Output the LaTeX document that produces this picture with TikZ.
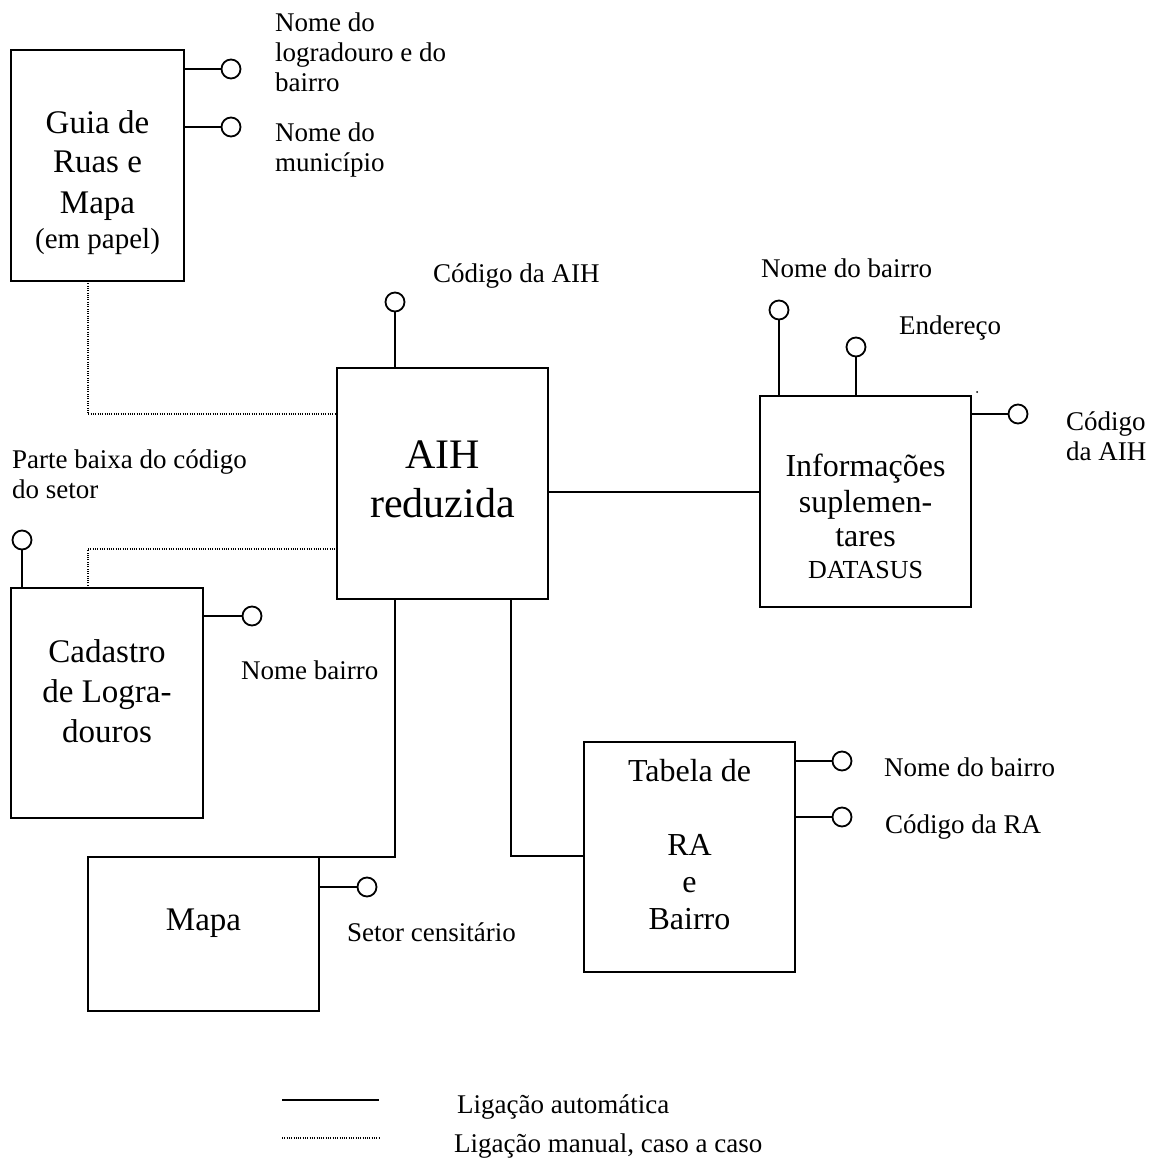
\documentclass[tikz,border=0pt]{standalone}
\usepackage{fontspec}
\setmainfont{Liberation Serif}
\begin{document}
\begin{tikzpicture}[x=1pt,y=-1pt,
  box/.style={draw, line width=2pt, rectangle, inner sep=0pt, outer sep=0pt},
  attr/.style={circle, draw, line width=1.8pt, minimum size=19pt, inner sep=0pt, outer sep=0pt},
  link/.style={line width=2pt},
  manual/.style={line width=1.6pt, dash pattern=on 1pt off 1.3pt},
  lbl/.style={font=\fontsize{27}{30}\selectfont, inner sep=0pt, anchor=base west, align=left},
  boxtxt/.style={font=\fontsize{33}{40}\selectfont, inner sep=0pt, anchor=base, align=center}]
\useasboundingbox (0,0) rectangle (1156,1158);

% entity boxes
\node[box, minimum width=173pt, minimum height=231pt] (guia) at (97.5,165.5) {};
\node[box, minimum width=211pt, minimum height=231pt] (aih)  at (442.5,483.5) {};
\node[box, minimum width=211pt, minimum height=211pt] (info) at (865.5,501.5) {};
\node[box, minimum width=192pt, minimum height=230pt] (cad)  at (107,703) {};
\node[box, minimum width=231pt, minimum height=154pt] (mapa) at (203.5,934) {};
\node[box, minimum width=211pt, minimum height=230pt] (tab)  at (689.5,857) {};

% box titles (anchored at the baseline of their last line)
\node[boxtxt] (guiatxt) at (97.5,248) {Guia de\\Ruas e\\Mapa\\[-5pt]{\fontsize{29}{35}\selectfont (em papel)}};
\node[boxtxt, font=\fontsize{42}{49}\selectfont] (aihtxt) at (442.5,517) {AIH\\reduzida};
\node[boxtxt, font=\fontsize{32}{38}\selectfont] (infotxt) at (865.5,578) {Informações\\[-2pt]suplemen-\\[-4pt]tares\\[-6pt]{\fontsize{26}{30}\selectfont DATASUS}};
\node[boxtxt] (cadtxt) at (107,742) {Cadastro\\de Logra-\\douros};
\node[boxtxt] (mapatxt) at (203.5,930) {Mapa};
\node[boxtxt, font=\fontsize{32}{37}\selectfont] (tabtxt) at (689.5,929) {Tabela de\\[37pt]RA\\e\\Bairro};

% attribute end points
\node[attr] (g1) at (231,69) {};
\node[attr] (g2) at (231,127) {};
\node[attr] (a1) at (395,302) {};
\node[attr] (i1) at (779,310) {};
\node[attr] (i2) at (856,347) {};
\node[attr] (i3) at (1018,414) {};
\node[attr] (c0) at (22,540) {};
\node[attr] (c1) at (252,616) {};
\node[attr] (m1) at (367,887) {};
\node[attr] (t1) at (842,761) {};
\node[attr] (t2) at (842,817) {};

% attribute stubs
\draw[link] (guia.east |- g1) -- (g1.west);
\draw[link] (guia.east |- g2) -- (g2.west);
\draw[link] (a1.south) -- (a1.south |- aih.north);
\draw[link] (i1.south) -- (i1.south |- info.north);
\draw[link] (i2.south) -- (i2.south |- info.north);
\draw[link] (info.east |- i3) -- (i3.west);
\draw[link] (c0.south) -- (c0.south |- cad.north);
\draw[link] (cad.east |- c1) -- (c1.west);
\draw[link] (mapa.east |- m1) -- (m1.west);
\draw[link] (tab.east |- t1) -- (t1.west);
\draw[link] (tab.east |- t2) -- (t2.west);
\fill (977,392) circle (1pt);

% attribute labels (anchored at the baseline of their last line)
\node[lbl] (lg1) at (275,92) {Nome do\\logradouro e do\\bairro};
\node[lbl] (lg2) at (275,172) {Nome do\\município};
\node[lbl] (la1) at (433,282) {Código da AIH};
\node[lbl] (li1) at (761,277) {Nome do bairro};
\node[lbl] (li2) at (899,334) {Endereço};
\node[lbl] (li3) at (1066,460) {Código\\da AIH};
\node[lbl] (lc0) at (12,498) {Parte baixa do código\\do setor};
\node[lbl] (lc1) at (241,679) {Nome bairro};
\node[lbl] (lm1) at (347,941) {Setor censitário};
\node[lbl] (lt1) at (884,776) {Nome do bairro};
\node[lbl] (lt2) at (885,833) {Código da RA};

% automatic links
\coordinate (ai) at (0,492);
\draw[link] (aih.east |- ai) -- (info.west |- ai);
\coordinate (k1) at (395,857);
\draw[link] (aih.south -| k1) -- (k1) -- (mapa.north east);
\coordinate (k2) at (511,856);
\draw[link] (aih.south -| k2) -- (k2) -- (k2 -| tab.west);

% manual links
\coordinate (d1) at (88,414);
\draw[manual] (guia.south -| d1) -- (d1) -- (d1 -| aih.west);
\coordinate (d2) at (88,549);
\draw[manual] (cad.north -| d2) -- (d2) -- (d2 -| aih.west);

% legend
\coordinate (s1) at (282,1100);
\coordinate (s2) at (379,1100);
\coordinate (s3) at (282,1138);
\coordinate (s4) at (379,1138);
\draw[link] (s1) -- (s2);
\draw[manual] (s3) -- (s4);
\node[lbl] (leg1) at (457,1113) {Ligação automática};
\node[lbl] (leg2) at (454,1152) {Ligação manual, caso a caso};
\end{tikzpicture}
\end{document}
